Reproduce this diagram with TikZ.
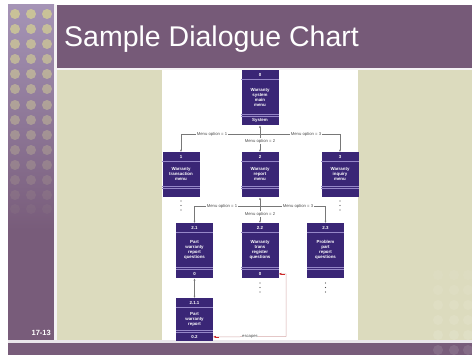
\documentclass[tikz,border=0pt]{standalone}
\usepackage{fontspec}
\setmainfont{Liberation Sans}
\usetikzlibrary{calc,arrows.meta}
\definecolor{titlep}{RGB}{118,90,120}
\definecolor{stripb}{RGB}{120,92,122}
\definecolor{stripl}{RGB}{165,148,182}
\definecolor{beige}{RGB}{220,219,190}
\definecolor{dotc}{RGB}{206,200,150}
\definecolor{boxc}{RGB}{58,38,118}
\definecolor{divc}{RGB}{150,135,200}
\definecolor{connc}{RGB}{120,120,120}
\definecolor{escc}{RGB}{215,170,170}
\definecolor{arrr}{RGB}{205,40,40}
\tikzset{
  dbx/.style={rectangle, fill=boxc, minimum width=37pt, inner sep=0pt, draw=none},
  btxt/.style={text=white, font=\fontsize{4.4}{5.1}\selectfont\bfseries, inner sep=0pt, align=center},
  divl/.style={draw=divc, line width=0.35pt},
  conn/.style={draw=connc, line width=0.4pt},
  arr/.style={-{Latex[length=2.2pt,width=2pt]}, draw=connc, line width=0.4pt},
  barr/.style={{Latex[length=2.2pt,width=2pt]}-{Latex[length=2.2pt,width=2pt]}, draw=connc, line width=0.4pt},
  lbl/.style={fill=white, inner sep=0.6pt, text=black!70, font=\fontsize{4.2}{5}\selectfont},
  vdot/.style={fill=black!70, draw=none, circle, inner sep=0pt, minimum size=1.3pt},
  sdot/.style={fill=dotc, draw=none}
}
% name, cx, top, height, num, text, bottom
\newcommand{\dlgbox}[7]{%
  \node[dbx, minimum height=#4pt, anchor=north] (#1) at (#2,#3) {};
  \node[btxt] at ($(#1.north)+(0,4.5)$) {#5};
  \draw[divl] ($(#1.north west)+(0,9)$) -- ($(#1.north east)+(0,9)$);
  \node[btxt] at ($(#1.center)+(0,-0.5)$) {#6};
  \draw[divl] ($(#1.south west)+(0,-11)$) -- ($(#1.south east)+(0,-11)$);
  \draw[divl] ($(#1.south west)+(0,-9)$) -- ($(#1.south east)+(0,-9)$);
  \node[btxt] at ($(#1.south)+(0,-4.5)$) {#7};
}
\begin{document}
\begin{tikzpicture}[x=1pt,y=-1pt]
\useasboundingbox (0,0) rectangle (472,355);
\fill[white] (0,0) rectangle (472,355);
% left strip
\shade[top color=stripl, bottom color=stripb] (8,5) rectangle (54,230);
\fill[stripb] (8,229.5) rectangle (54,343);
\foreach \r [count=\i] in {14,29,44,59,74,89,105,120,135,150,165,180,195,209}{
  \pgfmathsetmacro{\op}{max(0.06,0.9-0.066*(\i-1))}
  \foreach \c in {15,31,47}{
    \fill[sdot, opacity=\op] (\c,\r) circle (5);
  }
}
% separators
\fill[white!92!titlep] (54,5) rectangle (57,343);
% title bar
\fill[titlep] (57,5) rectangle (472,68);
\node[anchor=base west, text=white, font=\fontsize{28.5}{30}\selectfont, inner sep=0pt] (title) at (64,47) {Sample Dialogue Chart};
\fill[white!92!titlep] (57,68) rectangle (472,70);
% content
\fill[beige] (57,70) rectangle (472,340);
\foreach \r [count=\i] in {275,290,305,320,335}{
  \foreach \c in {438,454,468}{
    \fill[white, opacity=0.04+0.015*\i] (\c,\r) circle (5);
  }
}
\fill[white] (162,70) rectangle (358,340);
% bottom bar
\fill[white!85!titlep] (8,340) rectangle (472,343);
\fill[stripb] (8,343) rectangle (472,355);
\foreach \c in {438,454,468}{
  \fill[white, opacity=0.1] (\c,350) circle (5);
}
\node[anchor=base east, text=white, font=\fontsize{7.5}{8}\selectfont\bfseries, inner sep=0pt] (pg) at (51,336) {17-13};

% boxes
\dlgbox{b0}{260}{70}{55}{0}{Warranty\\system\\main\\menu}{System}
\dlgbox{b1}{181}{152}{45}{1}{Warranty\\transaction\\menu}{}
\dlgbox{b2}{260}{152}{45}{2}{Warranty\\report\\menu}{}
\dlgbox{b3}{340}{152}{45}{3}{Warranty\\inquiry\\menu}{}
\dlgbox{b21}{194.5}{223}{55}{2.1}{Part\\warranty\\report\\questions}{0}
\dlgbox{b22}{260}{223}{55}{2.2}{Warranty\\trans\\register\\questions}{0}
\dlgbox{b23}{325.5}{223}{55}{2.3}{Problem\\part\\report\\questions}{}
\dlgbox{b211}{194.5}{298}{43}{2.1.1}{Part\\warranty\\report}{0.2}

% level 1 connectors
\coordinate (j1) at (260,134);
\draw[barr] (b0.south) -- (b2.north);
\draw[arr] (j1) -| (b1.north);
\draw[arr] (j1) -| (b3.north);
\node[lbl] at (212,134) {Menu option = 1};
\node[lbl] at (306,134) {Menu option = 3};
\node[lbl] at (260,141) {Menu option = 2};
% level 2 connectors
\coordinate (j2) at (260,206);
\draw[barr] (b2.south) -- (b22.north);
\draw[arr] (j2) -| (b21.north);
\draw[arr] (j2) -| (b23.north);
\node[lbl] at (222,206) {Menu option = 1};
\node[lbl] at (298,206) {Menu option = 3};
\node[lbl] at (260,214) {Menu option = 2};
% 2.1 to 2.1.1
\draw[barr] (b21.south) -- (b211.north);
% vertical dots
\foreach \x/\y in {181/201, 340/201, 260/283, 325.5/283}{
  \node[vdot] at (\x,\y) {};
  \node[vdot] at (\x,\y+4.5) {};
  \node[vdot] at (\x,\y+9) {};
}
% escapes
\coordinate (e1) at (286,274);
\coordinate (e2) at (286,336.5);
\draw[draw=escc, line width=0.5pt] ($(b22.south east)+(0,-4.5)$) -- (e1) -- (e2) -- ($(b211.south east)+(0,-4.5)$);
\draw[-{Latex[length=2.6pt,width=2.2pt]}, draw=arrr, line width=0.5pt] ($(b22.south east)+(6,-4.5)$) -- ($(b22.south east)+(0,-4.5)$);
\draw[-{Latex[length=2.6pt,width=2.2pt]}, draw=arrr, line width=0.5pt] ($(b211.south east)+(6,-4.5)$) -- ($(b211.south east)+(0,-4.5)$);
\node[lbl] at (250,336.5) {escapes};
\end{tikzpicture}
\end{document}
